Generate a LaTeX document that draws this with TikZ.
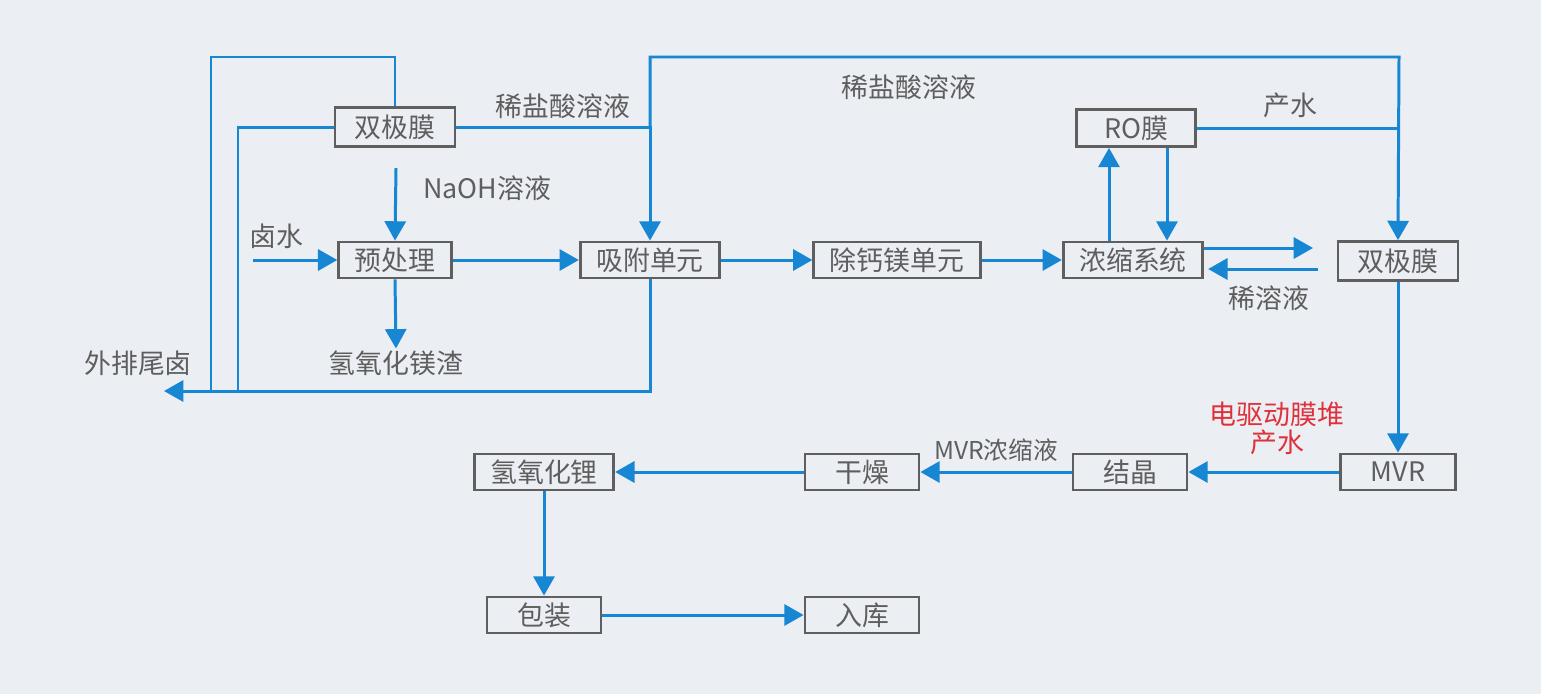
\documentclass[tikz,border=0pt]{standalone}
\usepackage{fontspec}
\setmainfont{Noto Sans CJK SC}
\usepackage{xcolor}
\usetikzlibrary{arrows.meta, positioning, calc}

\definecolor{bgc}{HTML}{EBEEF3}
\definecolor{flowc}{HTML}{1787D4}
\definecolor{boxc}{HTML}{5F5F5F}
\definecolor{txtc}{HTML}{5E5E5E}
\definecolor{redc}{HTML}{E0303A}

\begin{document}
\begin{tikzpicture}[
    x=0.02cm, y=-0.02cm,
    box/.style={rectangle, draw=boxc, line width=1.6pt, fill=bgc, text=txtc, minimum height=0.72cm, inner xsep=0.32cm, inner ysep=0pt, font=\fontsize{15.3}{18}\selectfont},
    lbl/.style={text=txtc, inner sep=1pt, font=\fontsize{15.3}{18}\selectfont},
    line/.style={draw=flowc, line width=1.7pt},
    flow/.style={line, -{Triangle[length=11pt, width=12pt]}}
]
    \fill[bgc] (0,0) rectangle (1541,694);
    \useasboundingbox (0,0) rectangle (1541,694);

    % Row 1: pretreatment and adsorption (y = 260)
    \node (bpL) at (395,127) [box, minimum width=2.4cm, minimum height=0.78cm] {双极膜};
    \node (pre) at (395,260) [box] {预处理};
    \node (ads) at (650,260) [box] {吸附单元};
    \node (cam) at (897,260) [box] {除钙镁单元};
    \node (conc) at (1133,260) [box] {浓缩系统};
    \node (ro) at (1136,128) [box, minimum width=2.38cm, minimum height=0.74cm] {RO膜};
    \node (bpR) at (1398,261) [box, minimum width=2.4cm, minimum height=0.78cm] {双极膜};

    % Row 2: crystallisation and product (y = 472)
    \node (mvr) at (1398,472) [box, minimum width=2.3cm] {MVR};
    \node (cry) at (1130,472) [box, minimum width=2.28cm] {结晶};
    \node (dry) at (862,472) [box, minimum width=2.28cm] {干燥};
    \node (lioh) at (544,472) [box] {氢氧化锂};
    \node (pack) at (544,615) [box, minimum width=2.28cm] {包装};
    \node (store) at (862,615) [box, minimum width=2.28cm] {入库};

    % Free ends and bends
    \coordinate (tl) at (211,57);
    \coordinate (bl) at (211,391);
    \coordinate (bl2) at (238,391);
    \coordinate (out) at (164,391);
    \coordinate (hj) at (650,127);
    \coordinate (tr) at (1399,57);
    \coordinate (naoh) at (396,168);
    \coordinate (brine) at (253,260);
    \coordinate (dil) at (1318,269);
    \coordinate (cout) at (1313,248);

    % Labels
    \node (lHcl) at (563,106) [lbl] {稀盐酸溶液};
    \node (lHcl2) at (909,87) [lbl] {稀盐酸溶液};
    \node (lNaoh) at (487,188) [lbl] {NaOH溶液};
    \node (lBrine) at (276,236) [lbl] {卤水};
    \node (mgo) at (396,363) [lbl] {氢氧化镁渣};
    \node (tail) at (138,363) [lbl] {外排尾卤};
    \node (lWater) at (1290,105) [lbl] {产水};
    \node (lDil) at (1269,298) [lbl] {稀溶液};
    \node (lEd) at (1277,428) [lbl, text=redc, align=center] {电驱动膜堆\\[-2pt]产水};
    \node (lMvr) at (996,450) [lbl, font=\fontsize{14}{16}\selectfont] {MVR浓缩液};

    % Left loops to tail brine
    \draw [line] (bpL.north) |- (tl) -- (bl);
    \draw [line] (bpL.west) -| (bl2);
    \draw [flow] (ads.south) |- (out);

    % Dilute acid to adsorption and right membrane
    \draw [flow] (bpL.east) -| (ads.north);
    \draw [flow] (hj) |- (tr) -- (bpR.north);
    \draw [line] (ro.east) -- (ro.east -| tr);

    % Main line
    \draw [flow] (naoh) -- (pre.north);
    \draw [flow] (brine) -- (pre.west);
    \draw [flow] (pre.south) -- (mgo.north);
    \draw [flow] (pre) -- (ads);
    \draw [flow] (ads) -- (cam);
    \draw [flow] (cam) -- (conc);

    % RO loop and concentrate exchange
    \draw [flow] ([xshift=-0.48cm]conc.north) -- ([xshift=-0.48cm]conc.north |- ro.south);
    \draw [flow] ([xshift=0.68cm]conc.north |- ro.south) -- ([xshift=0.68cm]conc.north);
    \draw [flow] (conc.east |- cout) -- (cout);
    \draw [flow] (dil) -- ([xshift=0.08cm]conc.east |- dil);

    % Down to MVR and back along row 2
    \draw [flow] (bpR.south) -- (mvr.north);
    \draw [flow] (mvr.west) -- (cry.east);
    \draw [flow] (cry.west) -- (dry.east);
    \draw [flow] (dry.west) -- (lioh.east);
    \draw [flow] (lioh.south) -- (pack.north);
    \draw [flow] (pack.east) -- (store.west);

\end{tikzpicture}
\end{document}
